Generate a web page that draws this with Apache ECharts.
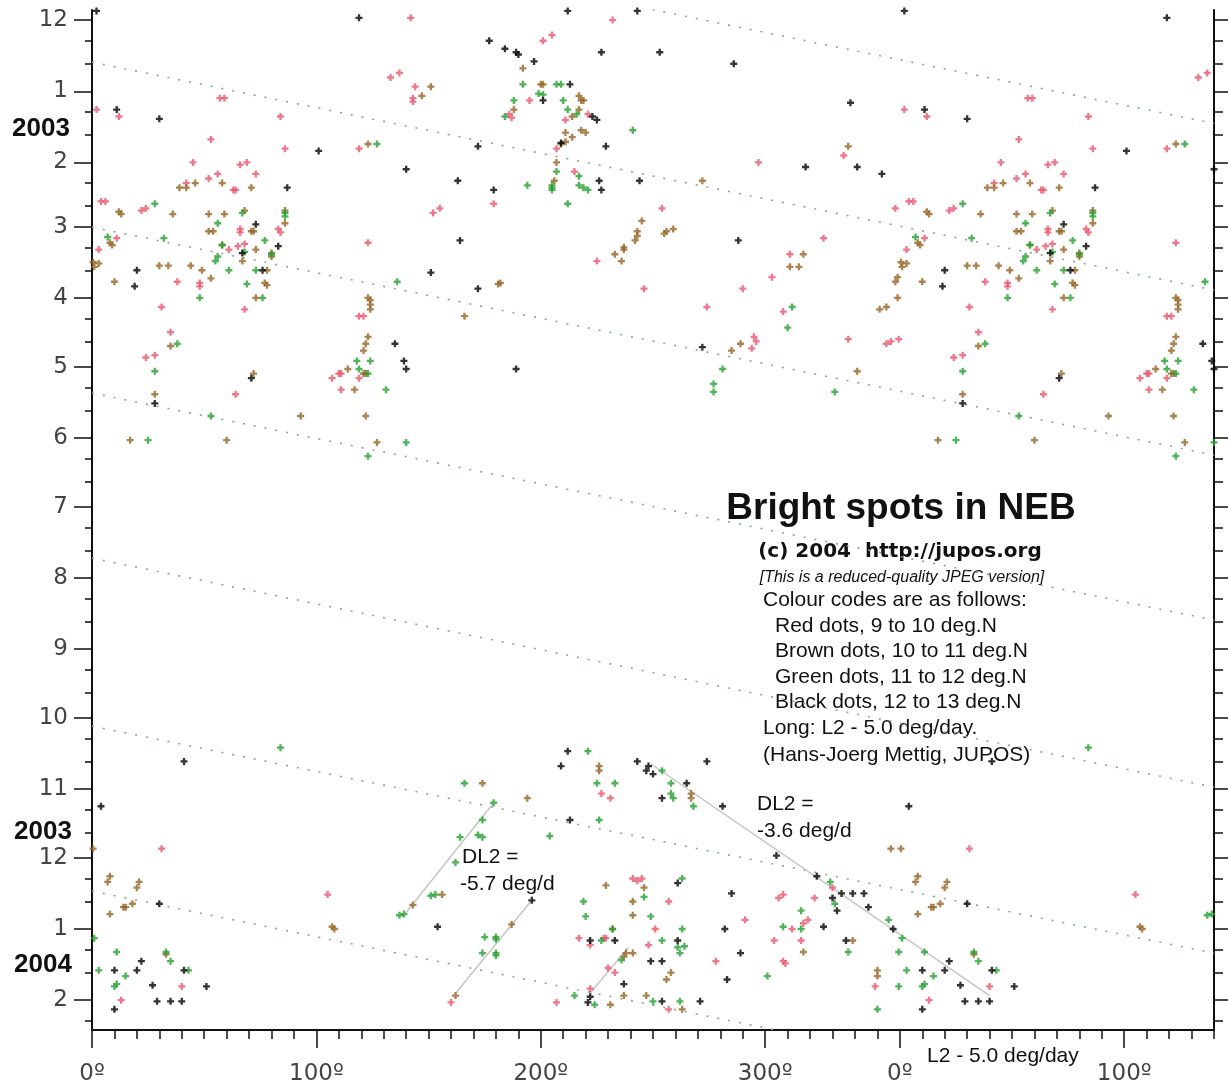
<!DOCTYPE html>
<html>
<head>
<meta charset="utf-8">
<title>Bright spots in NEB</title>
<script src="https://cdn.jsdelivr.net/npm/echarts@6/dist/echarts.min.js"></script>
<style>
	html, body { margin: 0; padding: 0; background: #fff; }
	#chart { width: 1228px; height: 1087px; }
</style>
</head>
<body>
<div id="chart"></div>
<script>
	// longitude (L2 - 5.0 deg/day), day counted from 1 Dec 2002
	var redDots = [
		[2,39],[12,42],[57,34],[59,34],[84,42],[53,52],[86,56],[119,56],[45,62],[66,63],[69,62],[56,67],[73,67],[52,69],[42,71],[63,74],[64,74],
		[4,79],[6,79],[22,83],[24,82],[66,91],[66,92.5],[83,91],[84,92.5],[11,95],[65,98.5],[68,97.5],[61,100],[3,100],[38,114],[48,114.5],[48,116],
		[31,125],[68,126],[123,97],[133,25],[137,23],[142,-1],[232,0],[201,9],[205,6.5],[144,29],[143,34],[143,35.5],[195,35],[221,41],[186,41],
		[187,42.5],[211,43.5],[207,56],[215,66],[179,80],[152,84],[155,82],[254,82],[225,105],[303,112],[290,117],[246,117],[311,102],[297,62],
		[335,59],[358,82],[326,95],[121,129],[119,129],[35,136],[24,147],[28,146],[107,156],[110,154],[111,154],[119,156],[111,161],[64,163],
		[274,125],[308,127],[295,138],[296,140],[294,143],[337,139],[354,141],[356,140],[359.5,139],
		[31,361],[105,381],[13,427],[40,421],[227,337],[231,339],[160,428],[207,428],[241,374],[243,375],[245,374],[257,384],[291,392],[251,396],
		[217,400],[222,403],[228,400],[229,400],[248,403],[230,413],[278,410],[233,415],[222,422],[257,431],[330,378],[306,382.5],[308,381],
		[322,382.5],[319,392],[317,393.5],[312,396],[304,401],[316,401],[308,410],[309,411],[349,421]
	];
	var brownDots = [
		[123,54],[58,71],[71,73],[46,71],[39,73],[42,73],[13,84.5],[12,83.5],[36,84.5],[52,84.5],[59,84.5],[68,83],[86,83],[86,88.5],[52,92],[54,92],
		[71,92],[72,92],[8,97],[9,98],[58,98],[73,100],[80,101.5],[80,103],[67,105],[0.5,105.5],[1,107.5],[3,106],[30,107],[34,107],[44,107],[10,114],
		[49,109],[53,112.5],[78,109],[77,114.5],[78,115.5],[73,121],[123,121],[124,122],[124,124],[124,126],[35,142],[123,138],[122,141],[121,144],
		[114,152],[121,154],[122,154],[117,161],[72,154],[28,163],[93,172.5],[122,172.5],[17,183],[60,183],[127,184],[166,129],[289,141],[285,144],
		[351,126],[354,125],[341,153],[192,21],[200,28],[201,28],[188,39],[217,33],[218,35],[219,35],[217,39],[214,42],[211,49],[218,48],[220,49],
		[214,51],[211,53],[209,54],[207,62],[206,70],[151,29],[147,33],[272,70],[245,87.5],[243,92],[243,94],[242,96],[255,93],[256,92],[259,91],
		[237,99],[237,100],[233,102],[236,105],[311,107.5],[315,107.5],[181,115],[182,114.5],[337,55],[317,102],[359,112],[358,114],[359,121],
		[0.5,361],[356,361],[8,373],[7,375.5],[21,375.5],[20,378],[14,386.5],[15,386.5],[18,385],[8,389.5],[107,395],[108,396],[33,407],[226,325],
		[226,327],[267,337],[267,339],[174,332.5],[194,339],[156,381],[143,385.5],[187,394],[162,425],[229,377],[246,378],[241,384],[241,390],
		[232,396],[238,406.5],[241,406.5],[237,408],[258,415],[256,418],[231,429],[237,425],[247,425],[263,431],[339,401],[317,406],[350,414],[350,416.5]
	];
	var greenDots = [
		[127,54],[28,80],[56,88.5],[67,84],[86,84],[86,85.5],[7,94.5],[32,95],[58,98],[68,101],[77,96],[80,102],[56,103],[55,105],[61,109],[69,115],
		[73,109],[76,121],[48,121],[136,114],[38,141],[28,153],[118,148.5],[124,148.5],[119,152],[123,154],[131,161],[53,172.5],[25,183],[123,190],
		[312,125],[310,134],[281,152],[277,158.5],[277,162],[140,184],[331,162],
		[192,28],[207,28],[209,28],[199,32],[201,32.5],[188,35],[210,35],[184,42],[212,39],[216,41],[207,66],[217,68],[194,72],[205,72],[205,73],
		[205,74],[217,72],[219,73],[221,74],[212,80],[241,48],
		[84,317],[1,400],[11,406],[33,406],[35,410],[3,414],[43,414],[15,416.5],[10,421],[11,420],[137,390],[139,389.5],[221,318.5],[225,332.5],
		[233,332.5],[258,332.5],[258,337],[259,339],[268,342.5],[254,327],[166,332.5],[179,341],[174,348.5],[164,356],[172,355],[174,356],[162,367],
		[226,348.5],[204,355.5],[151,381.5],[153,381],[175,399.5],[180,399.5],[180,400.5],[174,406.5],[180,406.5],[180,407.5],[219,384],[220,390.5],
		[246,382],[263,374],[249,390.5],[232,396],[263,396],[227,401],[254,401],[261,404],[264,403.5],[262,406.5],[236,409.5],[215,425],[224,429],
		[250,427.5],[262,427.5],[301,416.5],[329,375.5],[331,385],[316,388],[355,392],[308,395],[316,396],[337,406],[359.5,406],[359.5,421],[350,431]
	];
	var blackDots = [
		[2,-4],[119,-1],[11,39],[30,43],[101,57],[87,73],[73,89],[67,101.5],[83,98.5],[76,109],[20,109],[19,116],
		[212,-4],[243,-4],[177,9],[184,12.5],[189,14],[190,15],[197,18],[227,14],[253,14],[286,19],[213,28],[201,35],[223,42],[225,43.5],[209,53.5],
		[172,55],[229,55],[226,70],[227,74],[179,74],[140,65],[163,70],[244,70],[164,96],[288,96],[151,110],[172,117],[338,36],[318,64],[341,64],[352,67],
		[135,141],[71,156],[28,167],[139,148.5],[140,152],[189,152],[272,142.5],
		[41,323],[4,342.5],[30,385],[22,410],[10,414],[20,414],[41,414],[27,420.5],[51,421],[29,427.5],[35,427.5],[40,427.5],[10,431],
		[212,318.5],[209,325],[243,323],[248,325],[247,327],[250,328.5],[274,323],[265,332.5],[254,339],[281,342.5],[213,348.5],[305,364],[154,395],
		[196,383.5],[261,376],[285,380.5],[282,396],[222,401],[233,401],[261,401],[249,410],[254,410],[289,406.5],[237,420],[222,425.5],[221,428],
		[254,427.5],[271,427.5],[283,418],[323,373],[334,380.5],[339,380.5],[344,380.5],[330,382.5],[332,388],[346,386.5],[326,395],[357,396],[336,401]
	];

	// day at longitude 0 and at longitude 500 for each dotted drift line
	var driftLines = [[-54, 45], [18.3, 117.6], [90.2, 189.5], [162.5, 261.4], [234.4, 334.2], [307.6, 406.5], [379.5, 478.8]];
	// DL2 fits, [[lon, day], [lon, day]]
	var fitLines = [
		[[249, 324], [400, 425]],
		[[139, 390], [179, 341]],
		[[162, 424], [196, 383.5]],
		[[222, 424], [239, 404]]
	];

	var monthDays = [0, 31, 62, 90, 121, 151, 182, 212, 243, 274, 304, 335, 365, 396, 427];
	var monthLabels = ['12', '1', '2', '3', '4', '5', '6', '7', '8', '9', '10', '11', '12', '1', '2'];
	var lonMajor = [0, 100, 200, 300, 360, 460];
	var lonMax = 500;
	var dayMin = -4.4, dayMax = 440;

	var lonMinor = [];
	for (var l = 0; l <= lonMax; l += 10) lonMinor.push(l);
	var dayMinor = [];
	monthDays.forEach(function(d) {
		[9, 19].forEach(function(k) {
			if (d + k <= dayMax) dayMinor.push(d + k);
		});
	});

	// longitudes below 140 are shown a second time past 360
	function wrapped(pts) {
		return pts.concat(pts.filter(function(p) {
			return p[0] + 360 <= lonMax;
		}).map(function(p) {
			return [p[0] + 360, p[1]];
		}));
	}

	var plus = 'path://M2,0H4V2H6V4H4V6H2V4H0V2H2Z';
	var axisColor = '#111';
	var tickFont = '"DejaVu Sans", sans-serif';
	var textFont = '"Liberation Sans", Arial, sans-serif';
	var gridBox = { left: 92, right: 14, top: 10, bottom: 57 };

	function dots(name, data, color) {
		return {
			name: name,
			type: 'scatter',
			data: wrapped(data),
			symbol: plus,
			symbolSize: 7,
			clip: false,
			itemStyle: { color: color },
			z: 5
		};
	}

	var series = [];
	driftLines.forEach(function(d) {
		series.push({
			type: 'line',
			data: [[0, d[0]], [lonMax, d[1]]],
			showSymbol: false,
			silent: true,
			lineStyle: { color: '#86a886', width: 1.6, type: [2, 9] },
			z: 1
		});
	});
	fitLines.forEach(function(f) {
		series.push({
			type: 'line',
			data: f,
			showSymbol: false,
			silent: true,
			lineStyle: { color: '#c4c4c4', width: 1.5 },
			z: 2
		});
	});
	series.push(dots('red', redDots, '#e8566e'));
	series.push(dots('brown', brownDots, '#946424'));
	series.push(dots('green', greenDots, '#25a030'));
	series.push(dots('black', blackDots, '#000'));

	function xAxisDef(grid, ticks, len, withLine, withLabels) {
		return {
			type: 'value',
			gridIndex: grid,
			min: 0,
			max: lonMax,
			position: 'bottom',
			splitLine: { show: false },
			axisLine: { show: withLine, onZero: false, lineStyle: { color: axisColor, width: 2 } },
			axisTick: { show: true, customValues: ticks, length: len, lineStyle: { color: axisColor, width: 1.5 } },
			axisLabel: withLabels ? {
				show: true,
				customValues: lonMajor,
				margin: 33,
				fontSize: 23,
				fontFamily: tickFont,
				color: '#444',
				formatter: function(v) {
					return (v % 360) + 'º';
				}
			} : { show: false }
		};
	}

	function yAxisDef(grid, pos, ticks, len, withLine, withLabels) {
		return {
			type: 'value',
			gridIndex: grid,
			position: pos,
			inverse: true,
			min: dayMin,
			max: dayMax,
			splitLine: { show: false },
			axisLine: { show: withLine, onZero: false, lineStyle: { color: axisColor, width: 2 } },
			axisTick: { show: true, customValues: ticks, length: len, lineStyle: { color: axisColor, width: 1.5 } },
			axisLabel: withLabels ? {
				show: true,
				customValues: monthDays,
				margin: 24,
				fontSize: 23,
				fontFamily: tickFont,
				color: '#444',
				formatter: function(v) {
					var i = monthDays.indexOf(v);
					return i < 0 ? '' : monthLabels[i];
				}
			} : { show: false }
		};
	}

	function text(x, y, str, font, align) {
		return {
			type: 'text',
			x: x,
			y: y,
			silent: true,
			style: {
				text: str,
				font: font,
				fill: '#111',
				textAlign: align || 'left',
				textVerticalAlign: 'middle'
			}
		};
	}

	var chart = echarts.init(document.getElementById('chart'));
	chart.setOption({
		animation: false,
		backgroundColor: '#fff',
		// second grid only carries the long and short tick sets
		grid: [gridBox, gridBox],
		xAxis: [
			xAxisDef(0, lonMinor, 9, true, true),
			xAxisDef(1, lonMajor, 18, false, false)
		],
		yAxis: [
			yAxisDef(0, 'left', monthDays, 18, true, true),
			yAxisDef(0, 'right', monthDays, 15, true, false),
			yAxisDef(1, 'left', dayMinor, 7, false, false),
			yAxisDef(1, 'right', dayMinor, 9, false, false)
		],
		series: series,
		graphic: [
			text(41, 129, '2003', 'bold 26px ' + textFont, 'center'),
			text(43, 832, '2003', 'bold 26px ' + textFont, 'center'),
			text(43, 965, '2004', 'bold 26px ' + textFont, 'center'),
			text(901, 509, 'Bright spots in NEB', 'bold 37px ' + textFont, 'center'),
			text(900, 552, '(c) 2004  http://jupos.org', 'bold 20px "DejaVu Sans", sans-serif', 'center'),
			text(902, 578, '[This is a reduced-quality JPEG version]', 'italic 16px ' + textFont, 'center'),
			text(763, 600, 'Colour codes are as follows:', '21px ' + textFont),
			text(775, 626, 'Red dots, 9 to 10 deg.N', '21px ' + textFont),
			text(775, 651, 'Brown dots, 10 to 11 deg.N', '21px ' + textFont),
			text(775, 677, 'Green dots, 11 to 12 deg.N', '21px ' + textFont),
			text(775, 702, 'Black dots, 12 to 13 deg.N', '21px ' + textFont),
			text(763, 728, 'Long: L2 - 5.0 deg/day.', '21px ' + textFont),
			text(763, 755, '(Hans-Joerg Mettig, JUPOS)', '21px ' + textFont),
			text(757, 804, 'DL2 =', '21px ' + textFont),
			text(757, 831, '-3.6 deg/d', '21px ' + textFont),
			text(462, 857, 'DL2 =', '21px ' + textFont),
			text(460, 884, '-5.7 deg/d', '21px ' + textFont),
			text(927, 1056, 'L2 - 5.0 deg/day', '21px ' + textFont)
		]
	});
</script>
</body>
</html>
